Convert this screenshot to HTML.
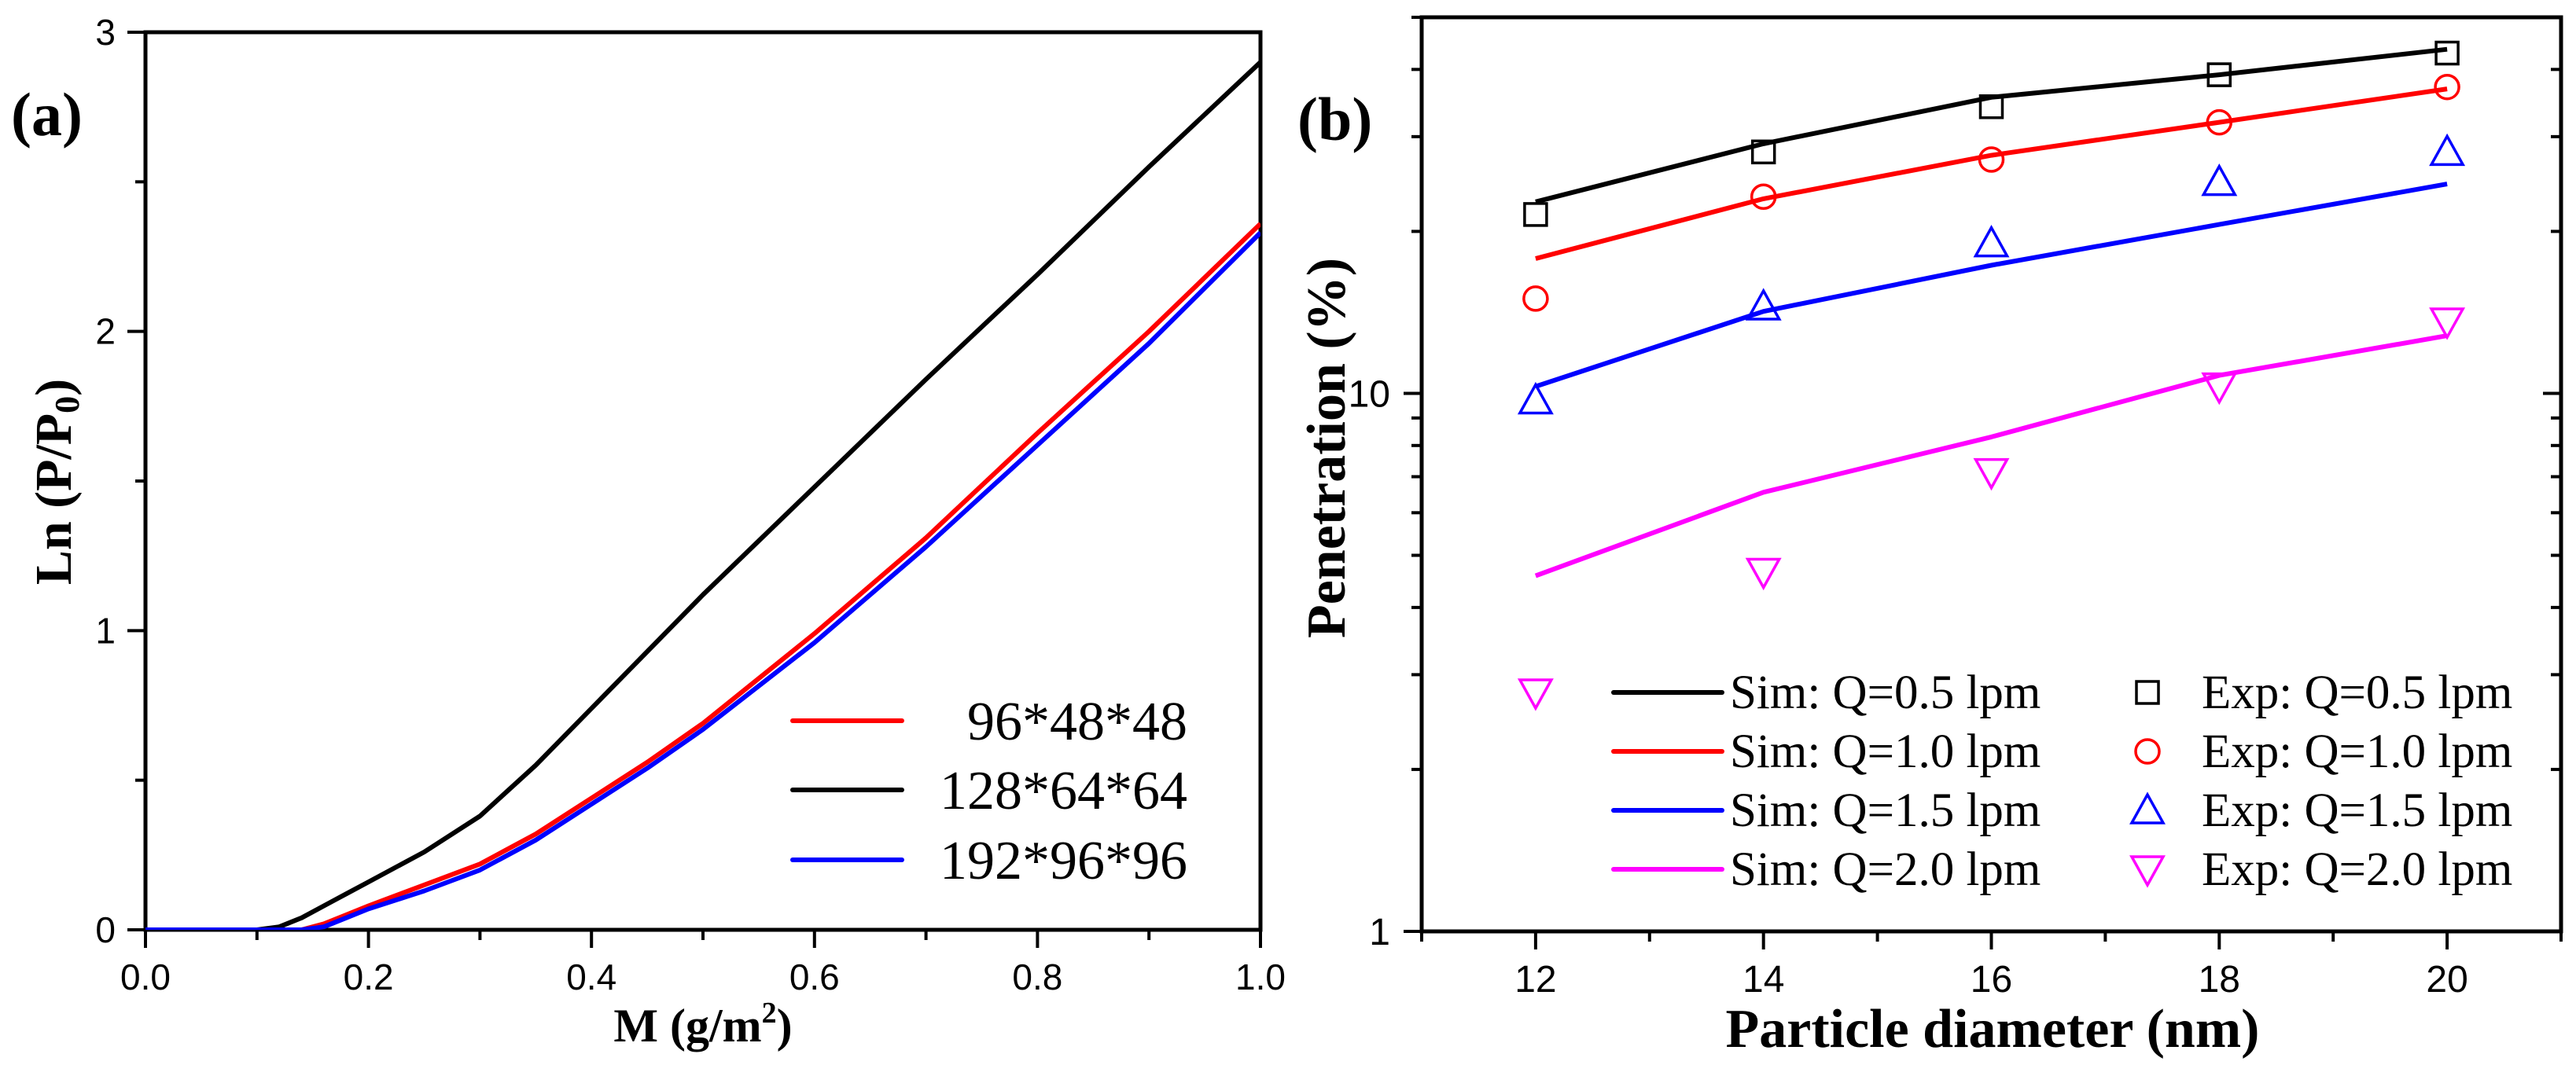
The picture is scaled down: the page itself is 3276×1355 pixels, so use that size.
<!DOCTYPE html>
<html><head><meta charset="utf-8"><style>
html,body{margin:0;padding:0;background:#fff;}
svg{display:block;}
</style></head><body>
<svg id="fig" xmlns="http://www.w3.org/2000/svg" width="3276" height="1355" viewBox="0 0 3276 1355">
<defs>
<clipPath id="clipA"><rect x="185" y="41" width="1418" height="1142"/></clipPath>
<clipPath id="clipB"><rect x="1808" y="22" width="1449" height="1163"/></clipPath>
</defs>
<rect width="3276" height="1355" fill="#fff"/>
<g id="pa"></g>
<g id="pb"></g>
</svg>
<script>
// ---------- Panel (a) data ----------
const aX = [0, 0.1, 0.12, 0.14, 0.16, 0.18, 0.2, 0.25, 0.3, 0.35, 0.4, 0.45, 0.5, 0.6, 0.7, 0.8, 0.9, 1.0];
const aBlack = [0, 0, 0.01, 0.04, 0.08, 0.12, 0.16, 0.26, 0.38, 0.55, 0.74, 0.93, 1.12, 1.48, 1.84, 2.19, 2.55, 2.90];
const aRed   = [0, 0, 0, 0, 0.02, 0.05, 0.08, 0.15, 0.22, 0.32, 0.44, 0.56, 0.69, 0.99, 1.31, 1.66, 2.00, 2.36];
const aBlue  = [0, 0, 0, 0, 0.01, 0.04, 0.07, 0.13, 0.20, 0.30, 0.42, 0.54, 0.67, 0.96, 1.28, 1.62, 1.96, 2.33];
const aXTicks = [0, 0.2, 0.4, 0.6, 0.8, 1.0];
const aXTickLabels = ["0.0", "0.2", "0.4", "0.6", "0.8", "1.0"];
const aYTicks = [0, 1, 2, 3];
const aYTickLabels = ["0", "1", "2", "3"];
const aLegend = ["96*48*48", "128*64*64", "192*96*96"];

// ---------- Panel (b) data ----------
const bX = [12, 14, 16, 18, 20];
const simQ05 = [22.7, 29.1, 35.5, 39.1, 43.6];
const simQ10 = [17.8, 23.0, 27.7, 31.9, 36.8];
const simQ15 = [10.3, 14.2, 17.3, 20.6, 24.5];
const simQ20 = [4.58, 6.55, 8.3, 10.8, 12.8];
const expQ05 = [21.5, 28.1, 34.1, 39.1, 42.9];
const expQ10 = [15.0, 23.2, 27.2, 31.9, 37.1];
const expQ15 = [9.7, 14.5, 19.0, 24.7, 28.1];
const expQ20 = [2.78, 4.66, 7.14, 10.3, 13.6];
const extraX = [12];
const extraY = [0.96];
const bXTicks = [12, 14, 16, 18, 20];
const bXTickLabels = ["12", "14", "16", "18", "20"];
const bYTicks = [1, 10];
const bYTickLabels = ["1", "10"];
const simLegend = ["Sim: Q=0.5 lpm", "Sim: Q=1.0 lpm", "Sim: Q=1.5 lpm", "Sim: Q=2.0 lpm"];
const expLegend = ["Exp: Q=0.5 lpm", "Exp: Q=1.0 lpm", "Exp: Q=1.5 lpm", "Exp: Q=2.0 lpm"];

const NS = "http://www.w3.org/2000/svg";
function mk(parent, tag, attrs, text) {
  const e = document.createElementNS(NS, tag);
  for (const k in attrs) e.setAttribute(k, attrs[k]);
  if (text !== undefined) e.textContent = text;
  parent.appendChild(e);
  return e;
}
const SANS = '"Liberation Sans", Arial, sans-serif';
const SERIF = '"Liberation Serif", "Times New Roman", serif';

const aL = 185, aR = 1603, aT = 41, aB = 1183;
const ax = v => aL + (v - 0) / 1.0 * (aR - aL);
const ay = v => aB - v / 3 * (aB - aT);
const bL = 1808, bR = 3257, bT = 22, bB = 1185;
const bx = v => bL + (v - 11) / 10 * (bR - bL);
const by = v => bB - Math.log10(v) / Math.log10(50) * (bB - bT);

// ===== Panel A =====
const pa = document.getElementById('pa');
let el;
el = mk(pa, 'rect', {x: aL, y: aT, width: aR - aL, height: aB - aT, fill: 'none', stroke: '#000', 'stroke-width': 5});


for (let v = 0; v <= 1.0001; v += 0.1) {
  const major = Math.abs(v * 5 - Math.round(v * 5)) < 1e-6;
  el = mk(pa, 'line', {x1: ax(v), y1: aB, x2: ax(v), y2: aB + (major ? 23 : 13), stroke: '#000', 'stroke-width': 4});
  
  
}
aXTicks.forEach((v, i) => {
  el = mk(pa, 'text', {x: ax(v), y: 1259, 'font-family': SANS, 'font-size': 46, 'text-anchor': 'middle'}, aXTickLabels[i]);
  
  
});
for (let v = 0; v <= 3.0001; v += 0.5) {
  const major = Math.abs(v - Math.round(v)) < 1e-6;
  el = mk(pa, 'line', {x1: aL - (major ? 23 : 13), y1: ay(v), x2: aL, y2: ay(v), stroke: '#000', 'stroke-width': 4});
  
  
}
aYTicks.forEach((v, i) => {
  el = mk(pa, 'text', {x: 147, y: ay(v) + 16, 'font-family': SANS, 'font-size': 46, 'text-anchor': 'end'}, aYTickLabels[i]);
  
  
});
el = mk(pa, 'text', {x: 0, y: 0, transform: 'translate(90,613) rotate(-90)', 'font-family': SERIF, 'font-size': 66, 'font-weight': 'bold', 'text-anchor': 'middle'});
el.innerHTML = 'Ln (P/P<tspan font-size="44" dy="10">0</tspan><tspan dy="-10">)</tspan>';


el = mk(pa, 'text', {x: 894, y: 1325, 'font-family': SERIF, 'font-size': 60, 'font-weight': 'bold', 'text-anchor': 'middle'});
el.innerHTML = 'M (g/m<tspan font-size="38" dy="-24">2</tspan><tspan dy="24">)</tspan>';


el = mk(pa, 'text', {x: 14, y: 172, 'font-family': SERIF, 'font-size': 78, 'font-weight': 'bold'}, '(a)');


const aSeries = [[aRed, '#ff0000', 'curve-96'], [aBlack, '#000', 'curve-128'], [aBlue, '#0000ff', 'curve-192']];
const aDraw = [aSeries[1], aSeries[0], aSeries[2]];
aDraw.forEach(s => {
  const d = aX.map((v, i) => (i ? 'L' : 'M') + ax(v).toFixed(1) + ' ' + ay(s[0][i]).toFixed(1)).join(' ');
  el = mk(pa, 'path', {d: d, fill: 'none', stroke: s[1], 'stroke-width': 6, 'stroke-linejoin': 'round', 'clip-path': 'url(#clipA)'});
  
  
});
const aLegY = [917, 1005, 1094];
aSeries.forEach((s, i) => {
  el = mk(pa, 'line', {x1: 1008, y1: aLegY[i], x2: 1147, y2: aLegY[i], stroke: s[1], 'stroke-width': 6, 'stroke-linecap': 'round'});
  
  
  el = mk(pa, 'text', {x: 1510, y: aLegY[i] + 24, 'font-family': SERIF, 'font-size': 70, 'text-anchor': 'end'}, aLegend[i]);
  
  
});

// ===== Panel B =====
const pb = document.getElementById('pb');
el = mk(pb, 'rect', {x: bL, y: bT, width: bR - bL, height: bB - bT, fill: 'none', stroke: '#000', 'stroke-width': 5});


for (let v = 11; v <= 21; v++) {
  const major = v % 2 === 0;
  el = mk(pb, 'line', {x1: bx(v), y1: bB, x2: bx(v), y2: bB + (major ? 23 : 13), stroke: '#000', 'stroke-width': 4});
  
  
}
bXTicks.forEach((v, i) => {
  el = mk(pb, 'text', {x: bx(v), y: 1262, 'font-family': SANS, 'font-size': 48, 'text-anchor': 'middle'}, bXTickLabels[i]);
  
  
});
const logMinor = [];
for (let d = 1; d <= 10; d *= 10) for (let m = 1; m <= 9; m++) { if (d * m <= 50) logMinor.push(d * m); }
logMinor.forEach(v => {
  const major = (v === 1 || v === 10);
  el = mk(pb, 'line', {x1: bL - (major ? 23 : 13), y1: by(v), x2: bL, y2: by(v), stroke: '#000', 'stroke-width': 4});
  
  
  el = mk(pb, 'line', {x1: bR - (major ? 23 : 13), y1: by(v), x2: bR, y2: by(v), stroke: '#000', 'stroke-width': 4});
  
  
});
bYTicks.forEach((v, i) => {
  el = mk(pb, 'text', {x: 1768, y: by(v) + 17, 'font-family': SANS, 'font-size': 48, 'text-anchor': 'end'}, bYTickLabels[i]);
  
  
});
el = mk(pb, 'text', {x: 0, y: 0, transform: 'translate(1710,570) rotate(-90)', 'font-family': SERIF, 'font-size': 70, 'font-weight': 'bold', 'text-anchor': 'middle'}, 'Penetration (%)');


el = mk(pb, 'text', {x: 2534, y: 1332, 'font-family': SERIF, 'font-size': 70, 'font-weight': 'bold', 'text-anchor': 'middle'}, 'Particle diameter (nm)');


el = mk(pb, 'text', {x: 1650, y: 178, 'font-family': SERIF, 'font-size': 78, 'font-weight': 'bold'}, '(b)');



const colors = ['#000', '#ff0000', '#0000ff', '#ff00ff'];
const sims = [simQ05, simQ10, simQ15, simQ20];
const exps = [expQ05, expQ10, expQ15, expQ20];
const shapes = ['square', 'circle', 'up', 'down'];
function marker(parent, shape, cx, cy, color, clip) {
  let m;
  const attrs = {fill: 'none', stroke: color, 'stroke-width': 3.5};
  if (clip) attrs['clip-path'] = 'url(#clipB)';
  if (shape === 'square') m = mk(parent, 'rect', Object.assign({x: cx - 14, y: cy - 14, width: 28, height: 28}, attrs));
  else if (shape === 'circle') m = mk(parent, 'circle', Object.assign({cx: cx, cy: cy, r: 15}, attrs));
  else if (shape === 'up') m = mk(parent, 'path', Object.assign({d: `M${cx} ${cy - 20} L${cx + 20} ${cy + 16} L${cx - 20} ${cy + 16} Z`}, attrs));
  else m = mk(parent, 'path', Object.assign({d: `M${cx} ${cy + 20} L${cx + 20} ${cy - 16} L${cx - 20} ${cy - 16} Z`}, attrs));
  return m;
}
sims.forEach((s, k) => {
  const d = bX.map((v, i) => (i ? 'L' : 'M') + bx(v).toFixed(1) + ' ' + by(s[i]).toFixed(1)).join(' ');
  el = mk(pb, 'path', {d: d, fill: 'none', stroke: colors[k], 'stroke-width': 6, 'stroke-linejoin': 'round', 'clip-path': 'url(#clipB)'});
  
  
});
exps.forEach((s, k) => {
  bX.forEach((v, i) => {
    el = marker(pb, shapes[k], bx(v), by(s[i]), colors[k], true);
    
    
  });
});
extraX.forEach((v, i) => {
  el = marker(pb, 'down', bx(v), by(extraY[i]) + 16, '#ff00ff', true);
  
  
});
const bLegY = [881, 956, 1031, 1106];
bLegY.forEach((y, k) => {
  el = mk(pb, 'line', {x1: 2052, y1: y, x2: 2190, y2: y, stroke: colors[k], 'stroke-width': 6, 'stroke-linecap': 'round'});
  
  
  el = mk(pb, 'text', {x: 2200, y: y + 20, 'font-family': SERIF, 'font-size': 61}, simLegend[k]);
  
  
  el = marker(pb, shapes[k], 2731, y, colors[k], false);
  
  
  el = mk(pb, 'text', {x: 2800, y: y + 20, 'font-family': SERIF, 'font-size': 61}, expLegend[k]);
  
  
});
</script>
</body></html>
